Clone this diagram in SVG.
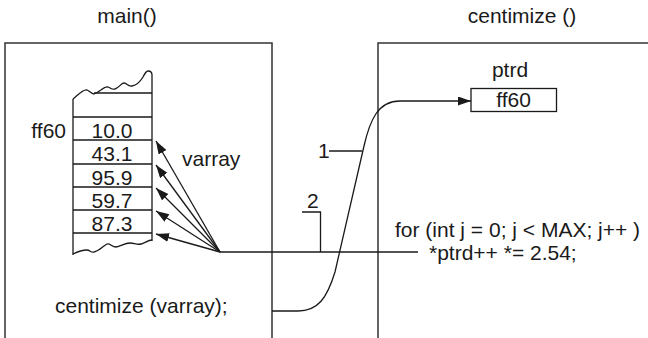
<svg xmlns="http://www.w3.org/2000/svg" width="648" height="338" viewBox="0 0 648 338">
<style>
text{font-family:"Liberation Sans",Arial,sans-serif;font-size:21px;fill:#1a1a1a}
.m{text-anchor:middle}
.e{text-anchor:end}
.ln{fill:none;stroke:#1a1a1a;stroke-width:1.3}
.box{fill:none;stroke:#333;stroke-width:1.5}
</style>
<defs>
<marker id="ah" markerUnits="userSpaceOnUse" markerWidth="14" markerHeight="10" refX="13" refY="4.5" orient="auto">
<path d="M0,0 L13,4.5 L0,9 z" fill="#1a1a1a"/>
</marker>
</defs>
<rect width="648" height="338" fill="#fff"/>
<g id="main">
<text class="m" x="127" y="23">main()</text>
<path class="box" d="M5,338 V43 H272 V338"/>
<text x="55" y="313">centimize (varray);</text>
</g>
<g id="centimize">
<text class="m" x="522" y="23">centimize ()</text>
<path class="box" d="M378,338 V43 H650"/>
<text x="395" y="237">for (int j = 0; j &lt; MAX; j++ )</text>
<text x="429" y="260">*ptrd++ *= 2.54;</text>
</g>
<g id="ptrd">
<text class="m" x="510" y="77">ptrd</text>
<rect class="ln" x="471" y="88.5" width="85.5" height="23"/>
<text class="m" x="513.5" y="107">ff60</text>
</g>
<g id="varray">
<path class="ln" d="M73,255 V99 M152,241 V75 M94,93 H152 M73,117 H152 M73,140 H152 M73,164 H152 M73,187 H152 M73,210 H152 M73,233 H152"/>
<path class="ln" d="M73,99 C78,95 83,89 87,90 C90,91 91,94 94,94 C100,92 104,86 108,87 C111,88 112,90 115,89 C119,88 121,83 124,83 C127,83 128,87 132,86 C137,85 140,82 143,77 C145,73 146,71 148,71 C151,71 152,73 152,75"/>
<path class="ln" d="M73,254 C77,252 82,250 87,250 C90,250 91,253 94,252 C99,251 103,246 107,244 C110,243 112,247 116,247 C121,246 125,243 130,243 C134,243 137,245 141,244 C145,243 148,240 152,240"/>
<text class="e" x="66" y="138">ff60</text>
<text class="m" x="112" y="138">10.0</text>
<text class="m" x="112" y="161">43.1</text>
<text class="m" x="112" y="185">95.9</text>
<text class="m" x="112" y="208">59.7</text>
<text class="m" x="112" y="231">87.3</text>
<text x="182" y="166">varray</text>
</g>
<g id="connectors">
<path class="ln" d="M220,252 L156,141" marker-end="url(#ah)"/>
<path class="ln" d="M220,252 L156,165" marker-end="url(#ah)"/>
<path class="ln" d="M220,252 L156,188" marker-end="url(#ah)"/>
<path class="ln" d="M220,252 L156,211" marker-end="url(#ah)"/>
<path class="ln" d="M220,252 L156,234" marker-end="url(#ah)"/>
<path class="ln" d="M220,252 H418"/>
<path class="ln" d="M272,311 L298,311 C318,311 327,298 335,272 L364,146 C370,120 378,101 400,101 L471,101" marker-end="url(#ah)"/>
<path class="ln" d="M302,212 H320.5 V252"/>
<path class="ln" d="M329,151 H362"/>
<text x="318" y="158">1</text>
<text x="307" y="208">2</text>
</g>
</svg>
